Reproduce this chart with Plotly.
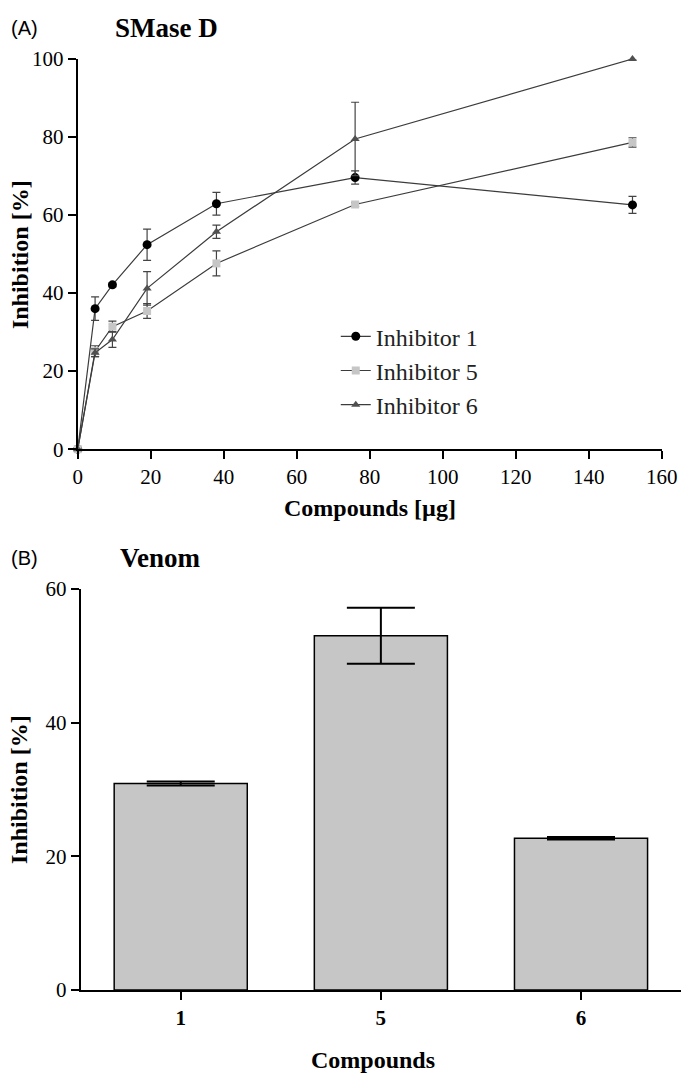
import plotly.graph_objects as go

# ---------------- data ----------------
dose = [0, 4.75, 9.5, 19, 38, 76, 152]
inh1 = [0, 36.0, 42.1, 52.4, 62.9, 69.6, 62.6]
inh1_err = [0, 3.0, 0.5, 4.0, 2.9, 1.7, 2.2]
inh5 = [0, 25.1, 31.4, 35.4, 47.6, 62.7, 78.6]
inh5_err = [0, 1.4, 1.4, 1.9, 3.2, 0.5, 1.2]
inh6 = [0, 24.7, 28.1, 41.2, 55.7, 79.5, 100]
inh6_err = [0, 1.0, 2.0, 4.3, 1.7, 9.4, 0]

compounds = ["1", "5", "6"]
venom = [30.9, 53.0, 22.7]
venom_err = [0.3, 4.2, 0.2]

x_ticks_top = [0, 20, 40, 60, 80, 100, 120, 140, 160]
y_ticks_top = [0, 20, 40, 60, 80, 100]
y_ticks_bot = [0, 20, 40, 60]

W, H = 700, 1090
def px_x(p):
    return p / W
def px_y(p):
    return 1 - p / H

SERIF = "Liberation Serif"
tickfont = dict(family=SERIF, size=21, color="black")
titlefont = dict(family=SERIF, size=24, color="black")

fig = go.Figure()

series = [
    ("Inhibitor 1", inh1, inh1_err, "circle", "black", 9),
    ("Inhibitor 5", inh5, inh5_err, "square", "#c6c6c6", 8),
    ("Inhibitor 6", inh6, inh6_err, "triangle-up", "#505050", 8),
]
for name, vals, errs, sym, col, size in series:
    fig.add_trace(go.Scatter(
        x=dose, y=vals, name=name, mode="lines+markers",
        line=dict(color="#3c3c3c", width=1.2),
        marker=dict(symbol=sym, color=col, size=size, line=dict(width=0)),
        error_y=dict(type="data", array=errs, visible=True,
                     color="#444444", thickness=1.2, width=4),
        cliponaxis=False, xaxis="x", yaxis="y",
    ))

fig.add_trace(go.Bar(
    x=compounds, y=venom, width=0.665, showlegend=False,
    marker=dict(color="#c6c6c6", line=dict(color="black", width=1.5)),
    error_y=dict(type="data", array=venom_err, visible=True,
                 color="black", thickness=2, width=34),
    xaxis="x2", yaxis="y2",
))

axis_common = dict(showgrid=False, zeroline=False, showline=True,
                   linecolor="black", linewidth=2, ticks="outside",
                   ticklen=8, tickwidth=2, tickcolor="black",
                   tickfont=tickfont, tickprefix="<b>", ticksuffix="</b>")

fig.update_layout(
    width=W, height=H,
    margin=dict(l=0, r=0, t=0, b=0),
    paper_bgcolor="white", plot_bgcolor="white",
    showlegend=True,
    legend=dict(x=px_x(341), y=px_y(309), xanchor="left", yanchor="top",
                font=dict(family=SERIF, size=24, color="#222222"),
                bgcolor="rgba(0,0,0,0)", tracegroupgap=0),
    xaxis=dict(domain=[px_x(75), px_x(677)], range=[0, 160],
               tickvals=x_ticks_top, anchor="y", **axis_common),
    yaxis=dict(domain=[px_y(447), px_y(48)], range=[0, 100],
               tickvals=y_ticks_top, anchor="x", **axis_common),
    xaxis2=dict(domain=[px_x(78), px_x(697)], range=[-0.5, 2.5],
                type="category", anchor="y2", **axis_common),
    yaxis2=dict(domain=[px_y(1000), px_y(590)], range=[0, 60],
                tickvals=y_ticks_bot, anchor="x2", **axis_common),
)

ann = []
def add_text(text, x, y, font, angle=0, xanchor="center"):
    ann.append(dict(text=text, x=px_x(x), y=px_y(y), xref="paper", yref="paper",
                    showarrow=False, font=font, textangle=angle,
                    xanchor=xanchor, yanchor="middle"))

sans = dict(family="Liberation Sans", size=20, color="black")
add_text("(A)", 4, 16, sans, xanchor="left")
add_text("(B)", 4, 558, sans, xanchor="left")
add_text("<b>SMase D</b>", 167, 16, dict(family=SERIF, size=27, color="black"))
add_text("<b>Venom</b>", 160, 558, dict(family=SERIF, size=27, color="black"))
add_text("<b>Inhibition [%]</b>", 15, 248, titlefont, angle=-90)
add_text("<b>Inhibition [%]</b>", 15, 795, titlefont, angle=-90)
add_text("<b>Compounds [µg]</b>", 376, 507, titlefont)
add_text("<b>Compounds</b>", 379, 1072, titlefont)
fig.update_layout(annotations=ann)

fig.write_html("out.html", config={"displayModeBar": False},
               post_script="document.body.style.margin='0';document.body.style.overflow='hidden';")
